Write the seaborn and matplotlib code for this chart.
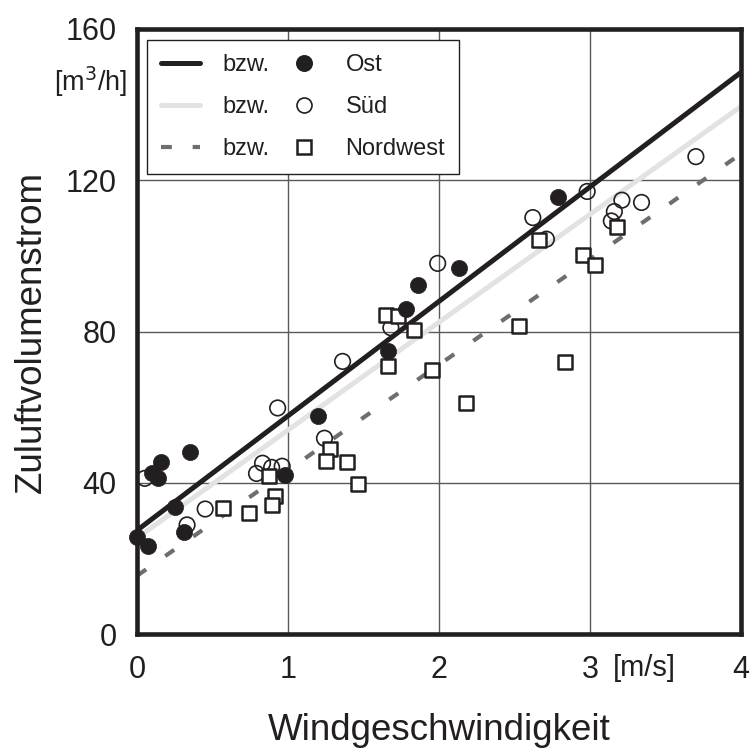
import numpy as np
import pandas as pd
import matplotlib
matplotlib.use("Agg")
import matplotlib.pyplot as plt
from matplotlib.lines import Line2D
import seaborn as sns

# ---- data ----
ost_x = [0.00, 0.07, 0.10, 0.14, 0.16, 0.35, 0.25, 0.31, 0.98, 1.20, 1.66, 1.78, 1.86, 2.13, 2.79]
ost_y = [25.8, 23.3, 42.6, 41.2, 45.5, 48.2, 33.7, 27.1, 42.0, 57.8, 74.8, 86.0, 92.2, 96.7, 115.6]

sued_x = [0.05, 0.33, 0.45, 0.79, 0.83, 0.89, 0.96, 0.93, 1.24, 1.36, 1.68, 1.99, 2.62, 2.71,
          2.98, 3.21, 3.16, 3.14, 3.34, 3.70]
sued_y = [41.2, 28.9, 33.1, 42.5, 45.2, 44.1, 44.4, 59.8, 51.8, 72.1, 81.0, 98.0, 110.1, 104.4,
          117.0, 114.7, 111.7, 109.2, 114.1, 126.2]

nw_x = [0.57, 0.74, 0.87, 0.91, 0.89, 1.28, 1.25, 1.39, 1.46, 1.65, 1.73, 1.83, 1.66, 1.95,
        2.18, 2.53, 2.66, 2.83, 2.95, 3.03, 3.18]
nw_y = [33.3, 32.1, 41.9, 36.5, 34.1, 48.9, 45.8, 45.4, 39.7, 84.3, 84.1, 80.3, 70.8, 69.9,
        61.2, 81.4, 104.2, 71.9, 100.1, 97.6, 107.5]

line_x = [0, 4]
ost_line = [27.5, 148.5]
sued_line = [25.5, 139.5]
nw_line = [15.5, 127.0]

x_ticks = [0, 1, 2, 3, 4]
y_ticks = [0, 40, 80, 120, 160]

labels_series = ["Ost", "Süd", "Nordwest"]

# ---- style ----
sns.set_style("white")
plt.rcParams["font.family"] = ["Liberation Sans", "DejaVu Sans"]

dark = "#231f20"
light = "#e1e2e3"
mid = "#6d6e71"
dash = (0, (2.6, 5.6))

fig = plt.figure(figsize=(7.54, 7.56), dpi=100)
ax = fig.add_axes([0.182, 0.161, 0.801, 0.801])

# regression lines
sns.lineplot(x=line_x, y=sued_line, ax=ax, color=light, lw=3.6, zorder=2)
sns.lineplot(x=line_x, y=nw_line, ax=ax, color=mid, lw=3.0, zorder=2, linestyle=dash)
sns.lineplot(x=line_x, y=ost_line, ax=ax, color=dark, lw=3.6, zorder=3)

# points
sns.scatterplot(x=sued_x, y=sued_y, ax=ax, marker="o", s=125, facecolor="none",
                edgecolor=dark, linewidth=1.2, zorder=4, clip_on=False)
sns.scatterplot(x=nw_x, y=nw_y, ax=ax, marker="s", s=110, facecolor="white",
                edgecolor=dark, linewidth=1.8, zorder=5, clip_on=False)
sns.scatterplot(x=ost_x, y=ost_y, ax=ax, marker="o", s=135, color=dark,
                edgecolor=dark, linewidth=0.5, zorder=6, clip_on=False)

ax.set_xlim(0, 4)
ax.set_ylim(0, 160)
ax.set_xticks(x_ticks)
ax.set_yticks(y_ticks)
ax.set_xticklabels([str(t) for t in x_ticks])
ax.set_yticklabels([str(t) for t in y_ticks])
ax.tick_params(length=0, labelsize=22, pad=15, colors=dark)
ax.grid(True, color="#58595b", lw=1.0)
ax.set_axisbelow(True)
for sp in ax.spines.values():
    sp.set_visible(True)
    sp.set_color(dark)
    sp.set_linewidth(3.3)

ax.set_xlabel("Windgeschwindigkeit", fontsize=26.5, labelpad=20, color=dark)
ax.set_ylabel("Zuluftvolumenstrom", fontsize=26.5, labelpad=12, color=dark)

ax.text(3.36, -8.8, "[m/s]", fontsize=21, ha="center", va="center", color=dark, clip_on=False)
ax.text(-0.066, 146, "[m$^3$/h]", fontsize=19.5, ha="right", va="center", color=dark, clip_on=False)

# legend: line "bzw." marker label
h = [Line2D([], [], color=dark, lw=3.6),
     Line2D([], [], color=light, lw=3.6),
     Line2D([], [], color=mid, lw=3.0, linestyle=(0, (2.6, 5.0))),
     Line2D([], [], ls="none", marker="o", ms=11.2, color=dark),
     Line2D([], [], ls="none", marker="o", ms=10.8, mfc="none", mec=dark, mew=1.2),
     Line2D([], [], ls="none", marker="s", ms=10.2, mfc="white", mec=dark, mew=1.8)]
leg = ax.legend(h, ["bzw."] * 3 + labels_series, ncol=2, loc="upper left",
                bbox_to_anchor=(0.0166, 0.982), borderaxespad=0, fontsize=17,
                handlelength=1.65, handletextpad=0.95, columnspacing=0.6,
                labelspacing=0.85, borderpad=0.6, fancybox=False, framealpha=1,
                edgecolor=dark)
leg.get_frame().set_linewidth(1.0)
for t in leg.get_texts():
    t.set_color(dark)
leg.set_zorder(10)

fig.savefig("out.png", dpi=100)
